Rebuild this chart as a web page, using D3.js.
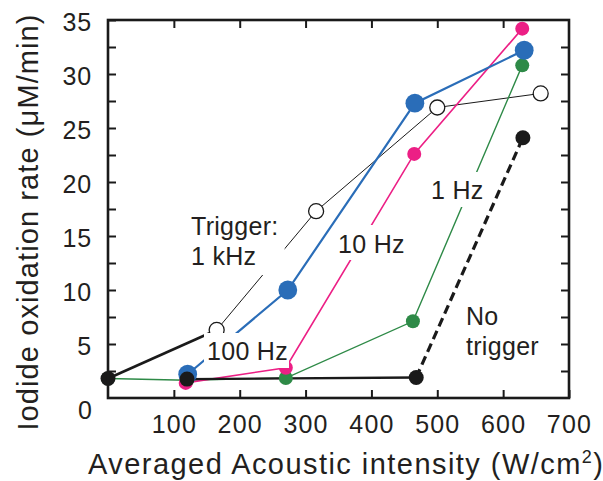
<!DOCTYPE html>
<html>
<head>
<meta charset="utf-8">
<script src="https://cdn.jsdelivr.net/npm/d3@7"></script>
<style>
  html, body { margin: 0; padding: 0; background: #fff; }
  svg { display: block; font-family: "Liberation Sans", Arial, Helvetica, sans-serif; }
</style>
</head>
<body>
<svg id="chart" width="603" height="481"></svg>
<script>
// ---- data ----
const xTickLabels = [100, 200, 300, 400, 500, 600, 700];
const yTickLabels = [5, 10, 15, 20, 25, 30, 35];

const intensity1kHz = [0, 165, 316, 500, 657];
const rate1kHz      = [1.8, 6.3, 17.3, 26.9, 28.2];

const intensity100Hz = [121, 273, 466, 632];
const rate100Hz      = [2.2, 10.0, 27.3, 32.2];

const intensity10Hz = [118, 270, 465, 629];
const rate10Hz      = [1.4, 2.8, 22.6, 34.2];

const intensity1Hz = [0, 120, 270, 463, 629];
const rate1Hz      = [1.8, 1.65, 1.85, 7.1, 30.8];

const intensityNoTrig = [0, 120, 468, 630];
const rateNoTrig      = [1.8, 1.75, 1.9, 24.1];

const seriesNames = ["1 kHz", "100 Hz", "10 Hz", "1 Hz", "No trigger"];

// ---- layout ----
const svg = d3.select("#chart");
const pL = 108, pR = 569, pT = 20, pB = 398;
const x = d3.scaleLinear().domain([0, 700]).range([pL, pR]);
const y = d3.scaleLinear().domain([0, 35]).range([pB, pT]);
const textColor = "#231f20";

const zip = (xs, ys) => xs.map((v, i) => [v, ys[i]]);
const s1k  = zip(intensity1kHz, rate1kHz);
const s100 = zip(intensity100Hz, rate100Hz);
const s10  = zip(intensity10Hz, rate10Hz);
const s1   = zip(intensity1Hz, rate1Hz);
const sNo  = zip(intensityNoTrig, rateNoTrig);

const line = d3.line().x(d => x(d[0])).y(d => y(d[1]));
const gLines = svg.append("g");

gLines.append("path").attr("d", line(s1k.slice(0, 2))).attr("fill", "none").attr("stroke", "#1a1a1a").attr("stroke-width", 2.6);
gLines.append("path").attr("d", line(s1k.slice(1))).attr("fill", "none").attr("stroke", "#1a1a1a").attr("stroke-width", 1);
gLines.append("path").attr("d", line(s1)).attr("fill", "none").attr("stroke", "#2e8a47").attr("stroke-width", 1.4);
gLines.append("path").attr("d", line(s10)).attr("fill", "none").attr("stroke", "#ec1f85").attr("stroke-width", 1.6);
gLines.append("path").attr("d", line(s100)).attr("fill", "none").attr("stroke", "#2a6db8").attr("stroke-width", 2.2);
gLines.append("path").attr("d", line(sNo.slice(1, 3))).attr("fill", "none").attr("stroke", "#1a1a1a").attr("stroke-width", 2.4);
gLines.append("path").attr("d", line(sNo.slice(2))).attr("fill", "none").attr("stroke", "#1a1a1a").attr("stroke-width", 3.2).attr("stroke-dasharray", "9,5");

// ---- markers ----
const gM = svg.append("g");
gM.selectAll(".m1k").data(s1k.slice(1)).join("circle")
  .attr("cx", d => x(d[0])).attr("cy", d => y(d[1])).attr("r", 7.5)
  .attr("fill", "#fff").attr("stroke", "#1a1a1a").attr("stroke-width", 1.3);
gM.selectAll(".m1").data(s1).join("circle")
  .attr("cx", d => x(d[0])).attr("cy", d => y(d[1])).attr("r", 7)
  .attr("fill", "#2e8a47");
gM.selectAll(".m100").data(s100).join("circle")
  .attr("cx", d => x(d[0])).attr("cy", d => y(d[1])).attr("r", 9.4)
  .attr("fill", "#2a6db8");
gM.selectAll(".m10").data(s10).join("circle")
  .attr("cx", d => x(d[0])).attr("cy", d => y(d[1])).attr("r", 7)
  .attr("fill", "#ec1f85");
gM.selectAll(".mNo").data(sNo).join("circle")
  .attr("cx", d => x(d[0])).attr("cy", d => y(d[1])).attr("r", 7.5)
  .attr("fill", "#1a1a1a");

// ---- in-plot labels with white boxes ----
function boxedLabel(lines, x0, baselines, pad, boxed) {
  const g = svg.append("g");
  const rect = g.append("rect").attr("fill", boxed ? "#fff" : "none");
  const t = g.append("text").attr("font-size", 25).attr("fill", textColor).attr("letter-spacing", 0.3);
  lines.forEach((s, i) => t.append("tspan").attr("x", x0).attr("y", baselines[i]).text(s));
  const bb = t.node().getBBox();
  rect.attr("x", bb.x - pad[3]).attr("y", bb.y - pad[0])
      .attr("width", bb.width + pad[1] + pad[3]).attr("height", bb.height + pad[0] + pad[2]);
  return g;
}
boxedLabel(["Trigger:", "1 kHz"], 191, [235, 265], [3, 6, 5, 3], true);
boxedLabel(["100 Hz"], 207, [360], [4, 1, 3, 3], true);
boxedLabel(["10 Hz"], 338, [253], [5, 3, 2, 3], true);
boxedLabel(["1 Hz"], 431, [199], [4, 3, 3, 3], true);
boxedLabel(["No", "trigger"], 466, [325, 355], [0, 0, 0, 0], false);

// ---- frame and axes ----
const tickLen = 8;
const gx = svg.append("g").attr("transform", `translate(0,${pB})`)
  .call(d3.axisBottom(x).tickValues(xTickLabels).tickSize(-tickLen).tickPadding(17).tickFormat(d3.format("d")));
const gxt = svg.append("g").attr("transform", `translate(0,${pT})`)
  .call(d3.axisTop(x).tickValues([100, 200, 300, 400, 500, 600]).tickSize(-tickLen).tickFormat(""));
const yMinor = d3.range(2.5, 35, 2.5);
const gy = svg.append("g").attr("transform", `translate(${pL},0)`)
  .call(d3.axisLeft(y).tickValues(yMinor.concat([35])).tickSize(-tickLen).tickPadding(16)
    .tickFormat(d => yTickLabels.includes(d) ? d3.format("d")(d) : ""));
const gyr = svg.append("g").attr("transform", `translate(${pR},0)`)
  .call(d3.axisRight(y).tickValues(yMinor).tickSize(-tickLen).tickFormat(""));

[gx, gxt, gy, gyr].forEach(g => {
  g.select(".domain").remove();
  g.selectAll(".tick line").attr("stroke", "#1a1a1a").attr("stroke-width", 2);
  g.selectAll(".tick text").attr("font-size", 25).attr("fill", textColor)
    .attr("font-family", "'Liberation Sans', Arial, sans-serif");
});
gx.selectAll(".tick text").attr("letter-spacing", 1.2);
gy.selectAll(".tick text").attr("dy", "0.40em").attr("letter-spacing", 0.8);

svg.append("text").attr("x", 92).attr("y", 419).attr("text-anchor", "end")
  .attr("font-size", 25).attr("fill", textColor).text("0");

svg.append("rect").attr("x", pL).attr("y", pT).attr("width", pR - pL).attr("height", pB - pT)
  .attr("fill", "none").attr("stroke", "#1a1a1a").attr("stroke-width", 2.6);

// ---- axis titles ----
const xt = svg.append("text").attr("x", 88).attr("y", 474).attr("font-size", 29)
  .attr("fill", textColor).attr("letter-spacing", 1.45);
xt.append("tspan").text("Averaged Acoustic intensity (W/cm");
xt.append("tspan").attr("font-size", 18).attr("dy", -11).text("2");
xt.append("tspan").attr("dy", 11).text(")");

svg.append("text").attr("transform", "translate(38,222) rotate(-90)").attr("text-anchor", "middle")
  .attr("font-size", 29).attr("fill", textColor).attr("letter-spacing", 1.1)
  .text("Iodide oxidation rate (μM/min)");
</script>
</body>
</html>
